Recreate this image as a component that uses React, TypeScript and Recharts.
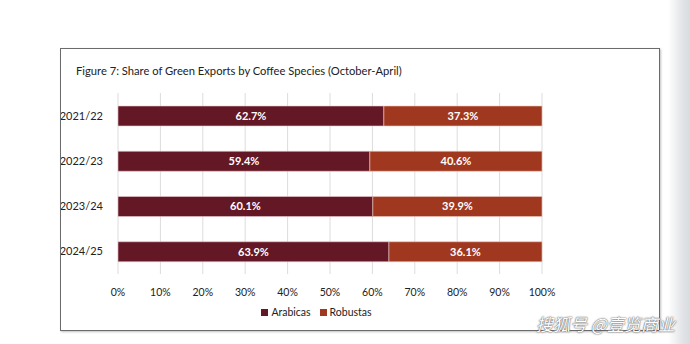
import { BarChart, Bar, XAxis, YAxis, CartesianGrid, Legend, LabelList } from "recharts";

const seasons = ["2021/22", "2022/23", "2023/24", "2024/25"];
const arabicas = [62.7, 59.4, 60.1, 63.9];
const robustas = [37.3, 40.6, 39.9, 36.1];
const ticks = [0, 10, 20, 30, 40, 50, 60, 70, 80, 90, 100];

const colors = { Arabicas: "#641826", Robustas: "#a0381f" };

const data = seasons.map((season, i) => ({
  season,
  Arabicas: arabicas[i],
  Robustas: robustas[i],
}));

const font = "Lato, 'Open Sans', sans-serif";
const fmt = (v: any) => `${Number(v).toFixed(1)}%`;

function LegendBox() {
  return (
    <div
      style={{
        display: "flex",
        justifyContent: "center",
        gap: 9,
        fontSize: 10.5,
        fontFamily: font,
        color: "#222",
        height: 22,
        alignItems: "center",
        paddingLeft: 30,
      }}
    >
      {(["Arabicas", "Robustas"] as const).map((k) => (
        <span key={k} style={{ display: "flex", alignItems: "center", gap: 3 }}>
          <span style={{ width: 7, height: 7, background: colors[k], display: "inline-block" }} />
          {k}
        </span>
      ))}
    </div>
  );
}

export default function App() {
  return (
    <div
      style={{
        position: "absolute",
        left: 0,
        top: 0,
        width: 690,
        height: 344,
        background: "#fff",
        overflow: "hidden",
        fontFamily: font,
      }}
    >
      {/* page edge shading */}
      <div
        style={{
          position: "absolute",
          left: 668,
          top: 0,
          width: 22,
          height: 344,
          background: "linear-gradient(to right, #fff, #e4e6e9 60%, #d8dbdf)",
        }}
      />
      <div
        style={{
          position: "absolute",
          left: 60,
          top: 48,
          width: 600,
          height: 283,
          border: "1px solid #6b6b6b",
          boxSizing: "border-box",
          boxShadow: "1px 1px 2px rgba(0,0,0,0.25)",
        }}
      >
        <div
          style={{
            position: "absolute",
            left: 15,
            top: 15,
            fontSize: 11.2,
            color: "#222",
          }}
        >
          Figure 7: Share of Green Exports by Coffee Species (October-April)
        </div>
        <BarChart
          width={598}
          height={281}
          data={data}
          layout="vertical"
          margin={{ top: 44, right: 117, bottom: 7, left: 0 }}
          barCategoryGap={12}
        >
          <CartesianGrid horizontal={false} stroke="#dcdcdc" />
          <XAxis
            type="number"
            domain={[0, 100]}
            ticks={ticks}
            tickFormatter={(v) => `${v}%`}
            axisLine={false}
            tickLine={false}
            tick={{ fontSize: 10.5, fill: "#222", fontFamily: font }}
            tickMargin={9}
            height={27}
            interval={0}
          />
          <YAxis
            type="category"
            dataKey="season"
            width={57}
            axisLine={false}
            tickLine={false}
            tick={{ fontSize: 11, fill: "#222", fontFamily: font }}
            tickMargin={9}
          />
          <Legend verticalAlign="bottom" content={() => <LegendBox />} />
          <Bar
            dataKey="Arabicas"
            stackId="a"
            fill={colors.Arabicas}
            stroke="#e8c9cc"
            strokeWidth={0.6}
            barSize={20}
            isAnimationActive={false}
          >
            <LabelList
              dataKey="Arabicas"
              position="center"
              formatter={fmt}
              fill="#fff"
              style={{ fontSize: 11, fontWeight: 700, fontFamily: font }}
            />
          </Bar>
          <Bar
            dataKey="Robustas"
            stackId="a"
            fill={colors.Robustas}
            stroke="#ecc7bd"
            strokeWidth={0.6}
            barSize={20}
            isAnimationActive={false}
          >
            <LabelList
              dataKey="Robustas"
              position="center"
              formatter={fmt}
              fill="#fff"
              style={{ fontSize: 11, fontWeight: 700, fontFamily: font }}
            />
          </Bar>
        </BarChart>
      </div>
      <div
        style={{
          position: "absolute",
          left: 536,
          top: 311,
          fontSize: 17,
          color: "#fff",
          fontFamily: "'Noto Sans CJK SC', sans-serif",
          textShadow: "0 0 2px #666, 0 0 1px #444",
          fontStyle: "italic",
          whiteSpace: "nowrap",
        }}
      >
        搜狐号 @壹览商业
      </div>
    </div>
  );
}
